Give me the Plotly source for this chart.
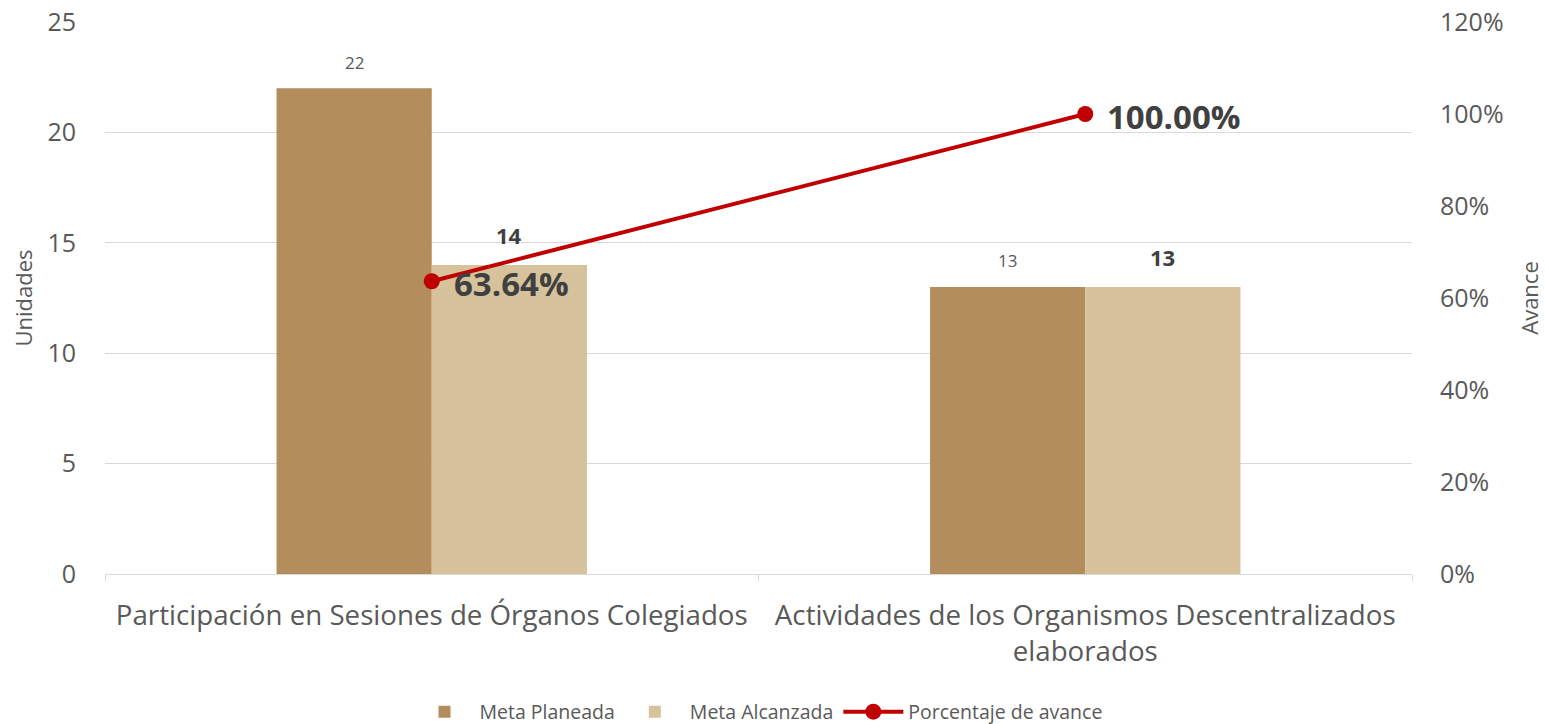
import plotly.graph_objects as go

categories = ["Participación en Sesiones de Órganos Colegiados",
              "Actividades de los Organismos Descentralizados<br>elaborados"]
meta_planeada = [22, 13]
meta_alcanzada = [14, 13]
avance = [0.6364, 1.0]
avance_labels = ["63.64%", "100.00%"]

FONT = "Open Sans"
GRAY = "#595959"
DARK = "#404040"

fig = go.Figure()
fig.add_trace(go.Bar(
    x=categories, y=meta_planeada, name="Meta Planeada",
    marker=dict(color="#B38D5B", line=dict(width=0)),
))
fig.add_trace(go.Bar(
    x=categories, y=meta_alcanzada, name="Meta Alcanzada",
    marker=dict(color="#D6C29B", line=dict(width=0)),
))
fig.add_trace(go.Scatter(
    x=categories, y=avance, name="Porcentaje de avance", yaxis="y2",
    mode="lines+markers",
    line=dict(color="#C00000", width=4),
    marker=dict(color="#C00000", size=16),
    cliponaxis=False,
))

annotations = []
for c, v in zip(categories, meta_planeada):
    annotations.append(dict(x=c, y=v, xref="x", yref="y", text=str(v), showarrow=False,
                            xshift=-77.5, yshift=26, yanchor="middle",
                            font=dict(size=17, color=GRAY, family=FONT)))
for c, v in zip(categories, meta_alcanzada):
    annotations.append(dict(x=c, y=v, xref="x", yref="y", text="<b>%d</b>" % v, showarrow=False,
                            xshift=77.5, yshift=30, yanchor="middle",
                            font=dict(size=22, color=DARK, family=FONT)))
for c, v, t in zip(categories, avance, avance_labels):
    annotations.append(dict(x=c, y=v, xref="x", yref="y2", text="<b>%s</b>" % t, showarrow=False,
                            xanchor="left", xshift=20, yshift=-2, yanchor="middle",
                            font=dict(size=33, color=DARK, family=FONT)))

fig.update_layout(
    width=1545, height=724,
    paper_bgcolor="white", plot_bgcolor="white",
    margin=dict(l=105, r=133, t=22, b=150, autoexpand=False),
    font=dict(family=FONT, color=GRAY),
    barmode="group", bargap=0.525, bargroupgap=0,
    showlegend=True,
    annotations=annotations,
    legend=dict(orientation="h", x=0.5, xanchor="center", y=-0.25, yanchor="middle",
                font=dict(size=19.5, color=GRAY, family=FONT), traceorder="normal",
                itemwidth=60, tracegroupgap=0),
    xaxis=dict(
        tickfont=dict(size=27.7, color=GRAY), showline=True, linecolor="#D9D9D9", linewidth=1,
        ticks="outside", tickson="boundaries", tickcolor="#D9D9D9", ticklen=6,
        showgrid=False, automargin=False, ticklabelstandoff=17,
    ),
    yaxis=dict(
        range=[0, 25], dtick=5, tickfont=dict(size=25, color=GRAY),
        showgrid=True, gridcolor="#D9D9D9", gridwidth=1, zeroline=False,
        title=dict(text="Unidades", font=dict(size=22, color=GRAY), standoff=8),
        ticks="", ticklabelstandoff=28, automargin=False, ticklabeloverflow="allow",
    ),
    yaxis2=dict(
        range=[0, 1.2], dtick=0.2, tickformat=".0%", overlaying="y", side="right",
        tickfont=dict(size=25, color=GRAY), showgrid=False, zeroline=False,
        title=dict(text="Avance", font=dict(size=22, color=GRAY), standoff=20),
        ticklabelstandoff=27, automargin=False, ticklabeloverflow="allow",
    ),
)

fig.write_html("out.html", config={"displayModeBar": False},
               post_script="document.body.style.margin='0';document.body.style.overflow='hidden';")
